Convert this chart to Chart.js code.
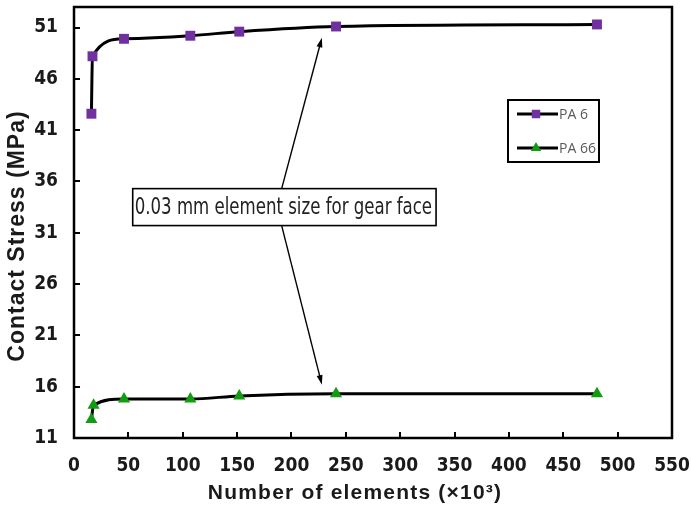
<!DOCTYPE html>
<html>
<head>
<meta charset="utf-8">
<script src="https://cdn.jsdelivr.net/npm/chart.js@4.4.1/dist/chart.umd.min.js"></script>
<style>
  html, body { margin: 0; padding: 0; background: #fff; }
</style>
</head>
<body>
<canvas id="stressChart" width="691" height="509"></canvas>
<script>
// values (x in thousands of elements, y in MPa)
const elementsPA6 = [16, 17, 46, 107, 152, 241, 481];
const stressPA6 = [42.6, 48.2, 49.9, 50.2, 50.6, 51.1, 51.3];
const elementsPA66 = [16, 18, 46, 107, 152, 241, 481];
const stressPA66 = [12.8, 14.2, 14.8, 14.8, 15.1, 15.3, 15.3];
const xTicks = [0, 50, 100, 150, 200, 250, 300, 350, 400, 450, 500, 550];
const yTicks = [11, 16, 21, 26, 31, 36, 41, 46, 51];

const seriesNames = ['PA 6', 'PA 66'];
const noteText = '0.03 mm element size for gear face';

const narrow = "'Liberation Sans Narrow', 'Arial Narrow', 'DejaVu Sans Condensed', sans-serif";
const sans = "'Liberation Sans', Arial, sans-serif";

function toPoints(xs, ys) {
    return xs.map((x, i) => ({ x: x, y: ys[i] }));
}

function arrow(ctx, x1, y1, x2, y2) {
    const ang = Math.atan2(y2 - y1, x2 - x1);
    const head = 10;
    ctx.beginPath();
    ctx.moveTo(x1, y1);
    ctx.lineTo(x2 - Math.cos(ang) * head * 0.8, y2 - Math.sin(ang) * head * 0.8);
    ctx.stroke();
    ctx.beginPath();
    ctx.moveTo(x2, y2);
    ctx.lineTo(x2 - head * Math.cos(ang - 0.3), y2 - head * Math.sin(ang - 0.3));
    ctx.lineTo(x2 - head * Math.cos(ang + 0.3), y2 - head * Math.sin(ang + 0.3));
    ctx.closePath();
    ctx.fill();
}

// no automatic label padding around the plot, the layout padding decides
function noEdgePadding(s) {
    s.paddingTop = 0;
    s.paddingBottom = 0;
    s.paddingLeft = 0;
    s.paddingRight = 0;
}

// frame, inward tick marks, axis titles, legend and the note with arrows
const decorations = {
    id: 'decorations',
    afterDraw(chart) {
        const ctx = chart.ctx;
        const ca = chart.chartArea;
        const xs = chart.scales.x;
        const ys = chart.scales.y;
        ctx.save();

        // tick marks pointing into the plot
        ctx.strokeStyle = '#000';
        ctx.lineWidth = 2;
        ctx.beginPath();
        xTicks.forEach(v => {
            if (v === 0) return;
            const px = Math.round(xs.getPixelForValue(v));
            ctx.moveTo(px, ca.bottom);
            ctx.lineTo(px, ca.bottom - 6);
        });
        yTicks.forEach(v => {
            const py = Math.round(ys.getPixelForValue(v));
            ctx.moveTo(ca.left, py);
            ctx.lineTo(ca.left + 6, py);
        });
        ctx.stroke();

        // plot frame
        ctx.lineWidth = 2.5;
        ctx.strokeRect(ca.left, ca.top, ca.right - ca.left, ca.bottom - ca.top);

        // axis titles
        ctx.fillStyle = '#1a1a1a';
        ctx.textAlign = 'center';
        ctx.textBaseline = 'middle';
        ctx.font = 'bold 21px ' + sans;
        ctx.letterSpacing = '1.2px';
        ctx.fillText('Number of elements (×10³)', ca.left + 281, ca.bottom + 55);
        ctx.save();
        ctx.translate(18, ca.top + 229);
        ctx.rotate(-Math.PI / 2);
        ctx.font = 'bold 23px ' + sans;
        ctx.letterSpacing = '1px';
        ctx.fillText('Contact Stress (MPa)', 0, 0);
        ctx.restore();
        ctx.letterSpacing = '0px';

        // legend box
        const lx = ca.right - 164, ly = ca.top + 93, lw = 91, lh = 62;
        ctx.fillStyle = '#fff';
        ctx.fillRect(lx, ly, lw, lh);
        ctx.lineWidth = 2;
        ctx.strokeStyle = '#000';
        ctx.strokeRect(lx, ly, lw, lh);
        chart.data.datasets.forEach((ds, i) => {
            const cy = ly + 14 + i * 34;
            ctx.strokeStyle = '#000';
            ctx.lineWidth = 3;
            ctx.beginPath();
            ctx.moveTo(lx + 9, cy);
            ctx.lineTo(lx + 50, cy);
            ctx.stroke();
            ctx.fillStyle = ds.pointBackgroundColor;
            Chart.helpers.drawPoint(ctx, { pointStyle: ds.pointStyle, radius: 6, rotation: 0, borderWidth: 0 }, lx + 28, cy);
            ctx.fillStyle = '#595959';
            ctx.textAlign = 'left';
            ctx.font = "14px 'Open Sans', sans-serif";
            ctx.fillText(ds.label, lx + 51, cy + 1);
        });

        // note box with arrows to the 240k-element points
        const bx1 = xs.getPixelForValue(54), bx2 = xs.getPixelForValue(333);
        const by1 = ys.getPixelForValue(35.3), by2 = ys.getPixelForValue(31.7);
        const ax = xs.getPixelForValue(191);
        ctx.strokeStyle = '#000';
        ctx.fillStyle = '#000';
        ctx.lineWidth = 1.4;
        arrow(ctx, ax, by1, xs.getPixelForValue(228), ys.getPixelForValue(50.0));
        arrow(ctx, ax, by2, xs.getPixelForValue(228), ys.getPixelForValue(16.2));
        ctx.fillStyle = '#fff';
        ctx.fillRect(bx1, by1, bx2 - bx1, by2 - by1);
        ctx.lineWidth = 1.6;
        ctx.strokeRect(bx1, by1, bx2 - bx1, by2 - by1);
        ctx.fillStyle = '#222';
        ctx.textAlign = 'left';
        ctx.font = '23px ' + narrow;
        ctx.fillText(noteText, bx1 + 2, (by1 + by2) / 2 + 1, bx2 - bx1 - 6);

        ctx.restore();
    }
};

new Chart(document.getElementById('stressChart').getContext('2d'), {
    type: 'scatter',
    data: {
        datasets: [
            {
                label: seriesNames[0],
                data: toPoints(elementsPA6, stressPA6),
                showLine: true,
                borderColor: '#000',
                borderWidth: 3,
                cubicInterpolationMode: 'monotone',
                pointStyle: 'rect',
                pointRadius: 7,
                pointBackgroundColor: '#7030a0',
                pointBorderWidth: 0
            },
            {
                label: seriesNames[1],
                data: toPoints(elementsPA66, stressPA66),
                showLine: true,
                borderColor: '#000',
                borderWidth: 3,
                cubicInterpolationMode: 'monotone',
                pointStyle: 'triangle',
                pointRadius: 7,
                pointBackgroundColor: '#119c11',
                pointBorderWidth: 0
            }
        ]
    },
    options: {
        responsive: false,
        animation: false,
        layout: { padding: { top: 7, right: 19, left: 0, bottom: 0 } },
        plugins: {
            legend: { display: false },
            tooltip: { enabled: false }
        },
        scales: {
            x: {
                min: 0,
                max: 550,
                grid: { display: false, drawTicks: false },
                border: { display: false },
                afterFit: s => { s.height = 71; noEdgePadding(s); },
                afterBuildTicks: s => { s.ticks = xTicks.map(v => ({ value: v })); },
                ticks: {
                    padding: 17,
                    maxRotation: 0,
                    autoSkip: false,
                    color: '#1a1a1a',
                    font: { family: narrow, size: 19, weight: 'bold' }
                }
            },
            y: {
                min: 11,
                max: 53,
                grid: { display: false, drawTicks: false },
                border: { display: false },
                afterFit: s => { s.width = 74; noEdgePadding(s); },
                afterBuildTicks: s => { s.ticks = yTicks.map(v => ({ value: v })); },
                ticks: {
                    padding: 16,
                    autoSkip: false,
                    color: '#1a1a1a',
                    font: { family: narrow, size: 19, weight: 'bold' }
                }
            }
        }
    },
    plugins: [decorations]
});
</script>
</body>
</html>
